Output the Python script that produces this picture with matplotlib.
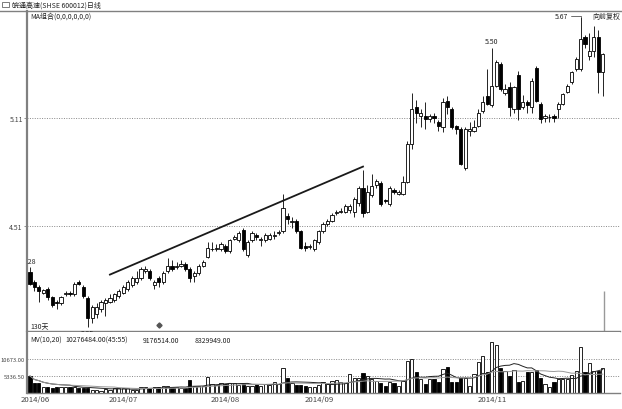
import matplotlib
matplotlib.use('Agg')
import matplotlib.pyplot as plt
import numpy as np
import pandas as pd
from matplotlib.lines import Line2D
from matplotlib.patches import Rectangle
import matplotlib.transforms as mtrans

plt.rcParams['font.family'] = ['Noto Sans CJK SC', 'DejaVu Sans']

# ---------------- data ----------------
opens = [4.255, 4.20, 4.17, 4.14, 4.16, 4.115, 4.09, 4.08, 4.13, 4.14,
         4.13, 4.20, 4.17, 4.11, 4.00, 4.02, 4.05, 4.08, 4.09, 4.10,
         4.12, 4.14, 4.16, 4.18, 4.20, 4.22, 4.26, 4.26, 4.18, 4.22,
         4.20, 4.26, 4.29, 4.28, 4.29, 4.30, 4.27, 4.23, 4.25, 4.29,
         4.34, 4.38, 4.38, 4.38, 4.40, 4.37, 4.44, 4.43, 4.49, 4.35,
         4.43, 4.46, 4.43, 4.43, 4.44, 4.455, 4.47, 4.48, 4.565, 4.53,
         4.54, 4.48, 4.40, 4.395, 4.38, 4.42, 4.48, 4.52, 4.54, 4.58,
         4.59, 4.59, 4.60, 4.59, 4.64, 4.72, 4.59, 4.68, 4.74, 4.75,
         4.655, 4.63, 4.71, 4.69, 4.69, 4.755, 4.965, 5.17, 5.12, 5.12,
         5.105, 5.12, 5.09, 5.06, 5.205, 5.16, 5.065, 5.05, 4.83, 5.04,
         5.04, 5.065, 5.15, 5.23, 5.18, 5.29, 5.41, 5.25, 5.28, 5.16,
         5.35, 5.17, 5.20, 5.17, 5.39, 5.19, 5.11, 5.115, 5.12, 5.16,
         5.19, 5.255, 5.31, 5.38, 5.38, 5.56, 5.455, 5.48, 5.56, 5.365]
closes = [4.19, 4.17, 4.15, 4.155, 4.115, 4.07, 4.08, 4.115, 4.14, 4.135,
          4.19, 4.19, 4.12, 4.00, 4.06, 4.06, 4.09, 4.10, 4.11, 4.13,
          4.15, 4.17, 4.20, 4.22, 4.22, 4.27, 4.27, 4.22, 4.20, 4.20,
          4.25, 4.29, 4.27, 4.29, 4.30, 4.27, 4.22, 4.25, 4.29, 4.31,
          4.39, 4.385, 4.39, 4.41, 4.37, 4.43, 4.45, 4.47, 4.38, 4.42,
          4.47, 4.45, 4.44, 4.46, 4.46, 4.46, 4.475, 4.61, 4.55, 4.54,
          4.48, 4.39, 4.39, 4.40, 4.43, 4.48, 4.52, 4.54, 4.57, 4.59,
          4.595, 4.62, 4.62, 4.66, 4.72, 4.58, 4.70, 4.73, 4.76, 4.63,
          4.65, 4.72, 4.70, 4.70, 4.755, 4.965, 5.16, 5.14, 5.14, 5.105,
          5.12, 5.11, 5.065, 5.20, 5.17, 5.06, 5.05, 4.855, 5.05, 5.05,
          5.06, 5.14, 5.20, 5.19, 5.29, 5.42, 5.27, 5.27, 5.17, 5.28,
          5.16, 5.20, 5.18, 5.315, 5.205, 5.105, 5.12, 5.115, 5.11, 5.19,
          5.245, 5.29, 5.365, 5.44, 5.55, 5.52, 5.48, 5.56, 5.365, 5.465]
highs = [4.28, 4.21, 4.18, 4.16, 4.17, 4.12, 4.10, 4.12, 4.15, 4.15,
         4.20, 4.21, 4.18, 4.12, 4.07, 4.08, 4.10, 4.11, 4.13, 4.14,
         4.16, 4.18, 4.21, 4.23, 4.26, 4.28, 4.29, 4.27, 4.21, 4.23,
         4.26, 4.33, 4.32, 4.31, 4.32, 4.31, 4.28, 4.26, 4.30, 4.32,
         4.42, 4.42, 4.41, 4.42, 4.41, 4.44, 4.46, 4.48, 4.50, 4.43,
         4.48, 4.47, 4.45, 4.47, 4.47, 4.48, 4.49, 4.69, 4.58, 4.56,
         4.55, 4.49, 4.42, 4.41, 4.44, 4.49, 4.53, 4.55, 4.58, 4.60,
         4.61, 4.63, 4.63, 4.67, 4.73, 4.82, 4.74, 4.80, 4.77, 4.76,
         4.66, 4.73, 4.72, 4.71, 4.79, 4.98, 5.25, 5.21, 5.16, 5.20,
         5.13, 5.14, 5.10, 5.22, 5.23, 5.17, 5.07, 5.06, 5.06, 5.09,
         5.10, 5.16, 5.23, 5.38, 5.50, 5.43, 5.42, 5.30, 5.31, 5.29,
         5.37, 5.24, 5.21, 5.33, 5.40, 5.20, 5.13, 5.13, 5.13, 5.20,
         5.25, 5.30, 5.37, 5.45, 5.67, 5.57, 5.58, 5.62, 5.60, 5.47]
lows = [4.18, 4.15, 4.09, 4.13, 4.10, 4.06, 4.05, 4.07, 4.12, 4.12,
        4.12, 4.18, 4.11, 3.95, 3.97, 4.00, 4.03, 4.01, 4.08, 4.09,
        4.11, 4.13, 4.15, 4.17, 4.19, 4.21, 4.25, 4.21, 4.16, 4.17,
        4.19, 4.25, 4.26, 4.27, 4.28, 4.26, 4.20, 4.20, 4.24, 4.28,
        4.33, 4.37, 4.37, 4.37, 4.36, 4.36, 4.43, 4.42, 4.37, 4.34,
        4.42, 4.43, 4.40, 4.42, 4.43, 4.44, 4.46, 4.47, 4.52, 4.50,
        4.47, 4.38, 4.37, 4.38, 4.37, 4.41, 4.47, 4.51, 4.53, 4.57,
        4.58, 4.58, 4.58, 4.56, 4.62, 4.56, 4.58, 4.67, 4.72, 4.62,
        4.64, 4.62, 4.69, 4.68, 4.68, 4.75, 4.94, 5.08, 5.06, 5.05,
        5.09, 5.08, 5.04, 5.03, 5.13, 5.05, 5.02, 4.85, 4.82, 5.01,
        5.03, 5.06, 5.14, 5.18, 5.17, 5.28, 5.26, 5.24, 5.12, 5.14,
        5.10, 5.16, 5.14, 5.14, 5.20, 5.08, 5.09, 5.09, 5.09, 5.11,
        5.18, 5.25, 5.30, 5.37, 5.37, 5.50, 5.43, 5.45, 5.25, 5.23]
volumes = [5340, 3140, 3140, 1880, 1880, 1570, 1880, 1880, 1880, 1880,
           1880, 1570, 1570, 1570, 940, 940, 630, 1260, 940, 1570,
           1570, 1570, 1570, 940, 940, 1880, 1880, 1570, 1880, 1880,
           2200, 2200, 1880, 1880, 1570, 1570, 4080, 2200, 2200, 2200,
           5020, 2830, 2510, 3140, 2830, 3140, 3140, 2510, 2830, 2200,
           2200, 2830, 2200, 2830, 2510, 3450, 2830, 7850, 4710, 3140,
           2510, 2510, 2200, 1880, 1880, 2510, 3450, 2830, 3770, 4080,
           3450, 3140, 5970, 4710, 4710, 6280, 5340, 4400, 3770, 3140,
           2200, 3450, 3140, 2200, 3770, 10050, 10680, 6590, 4400, 2830,
           4400, 4400, 3450, 7540, 8160, 3450, 3450, 4710, 4710, 2200,
           5970, 9730, 11620, 6590, 16010, 15070, 7850, 6910, 5340, 7220,
           3450, 3770, 6590, 6590, 7220, 4710, 2830, 1880, 3450, 4400,
           4400, 4400, 5650, 6910, 14440, 6590, 9420, 6910, 6910, 7850]
month_labels = ['2014/06', '2014/07', '2014/08', '2014/09', '2014/11']
month_start_idx = [0, 20, 43, 64, 103]
price_ticks = [4.51, 5.11]
price_tick_labels = ['4.51', '5.11']
vol_ticks = [5336.50, 10673.00]
vol_tick_labels = ['5336.50', '10673.00']
trend_x = [18, 75]
trend_y = [4.24, 4.84]
mv_texts = ['MV(10,20)', '10276484.00(45:55)', '9176514.00', '8329949.00']

# ---------------- layout ----------------
W, H = 622, 410
fig = plt.figure(figsize=(W / 100, H / 100), dpi=100)
fig.patch.set_facecolor('white')

def fx(px):
    return px / W

def fy(py):
    return 1 - py / H

L, R = 27, 620
ax = fig.add_axes([fx(L), fy(332), fx(R - L), (332 - 12) / H])
axv = fig.add_axes([fx(L), fy(394), fx(R - L), (394 - 333) / H])

step = 4.44
x0 = 30
xlim = ((L - x0) / step, (R - x0) / step)
ax.set_xlim(*xlim)
axv.set_xlim(*xlim)
ax.set_ylim(5.11 - 213 / 180, 5.11 + 107 / 180)
axv.set_ylim(0, 61 * 314)

n = len(opens)
idx = np.arange(n)
o = np.array(opens); c = np.array(closes)
hi = np.array(highs); lo = np.array(lows)
up = c >= o
face = ['white' if u else 'black' for u in up]

grey = '#808080'
txtc = '#222222'

# grid lines
for t in price_ticks:
    ax.axhline(t, color='#888888', lw=0.7, ls=(0, (1, 1.5)), zorder=0)
for t in vol_ticks:
    axv.axhline(t, color='#888888', lw=0.7, ls=(0, (1, 1.5)), zorder=0)

# candles
ax.vlines(idx, lo, hi, color='black', lw=0.6, zorder=2)
body_bottom = np.minimum(o, c)
body_h = np.maximum(np.abs(c - o), 0.003)
ax.bar(idx, body_h, bottom=body_bottom, width=0.72, color=face,
       edgecolor='black', linewidth=0.6, zorder=3)

# trend line
ax.plot(trend_x, trend_y, color='#1a1a1a', lw=1.3, zorder=4)

# cursor line and marker
ax.vlines(n - 1 + 0.3, ax.get_ylim()[0], 4.15, color='#999999', lw=1.0, zorder=1)
ax.plot([29], [3.96], marker='D', ms=2.6, color='#555555', zorder=5)

# price labels
fs = 5
ax.annotate('4.28', xy=(0, highs[0]), xytext=(0, 1.5), textcoords='offset points',
            ha='center', va='bottom', fontsize=fs, color=txtc, clip_on=True)
ax.annotate('3.95', xy=(13, lows[13]), xytext=(0, -1.5), textcoords='offset points',
            ha='center', va='top', fontsize=fs, color=txtc)
ax.annotate('5.50', xy=(104, highs[104]), xytext=(0, 2), textcoords='offset points',
            ha='center', va='bottom', fontsize=fs, color=txtc)
ax.annotate('5.67', xy=(124, highs[124]), xytext=(-9, 1.2), textcoords='offset points',
            ha='right', va='center', fontsize=fs, color=txtc,
            arrowprops=dict(arrowstyle='-', color='#555555', lw=0.6,
                            connectionstyle='angle,angleA=0,angleB=90,rad=0',
                            shrinkA=0, shrinkB=0))

# volume bars
axv.bar(idx, volumes, width=0.72, color=face, edgecolor='black', linewidth=0.6, zorder=2)
vs = pd.Series(volumes, dtype=float)
axv.plot(idx, vs.rolling(10, min_periods=1).mean(), color='#222222', lw=0.7, zorder=3)
axv.plot(idx, vs.rolling(20, min_periods=1).mean(), color='#999999', lw=0.7, zorder=3)

# spines / ticks
for a in (ax, axv):
    a.set_facecolor('white')
    a.spines['right'].set_visible(False)
    a.spines['left'].set_color(grey)
    a.spines['left'].set_linewidth(1.6)
    a.spines['bottom'].set_color(grey)
    a.spines['bottom'].set_linewidth(1.0)
    a.set_xticks([])
ax.tick_params(axis='y', length=2, width=0.6, color=grey, labelsize=5,
               labelcolor='#444444', pad=1)
axv.tick_params(axis='y', length=1, width=0.6, color=grey, labelsize=4.2,
                labelcolor='#444444', pad=0.5)
ax.spines['top'].set_visible(False)
axv.spines['top'].set_visible(False)
ax.set_yticks(price_ticks, price_tick_labels)
axv.set_yticks(vol_ticks, vol_tick_labels)

# top line and title
fig.add_artist(Line2D([0, 1], [fy(11.5), fy(11.5)], color=grey, lw=1.0))
fig.add_artist(Rectangle((fx(2), fy(8)), fx(7), 5 / H, facecolor='none',
                         edgecolor='#666666', lw=0.6))
fig.text(fx(12), fy(5.5), '皖通高速(SHSE 600012)日线', fontsize=5, color=txtc,
         va='center', ha='left')

# texts inside main panel
ax.text((30 - L) / (R - L), (332 - 17) / 320, 'MA组合(0,0,0,0,0,0)', transform=ax.transAxes,
        fontsize=fs, color=txtc, va='center', ha='left')
ax.text(1.0, (332 - 17) / 320, '向前复权', transform=ax.transAxes,
        fontsize=fs, color=txtc, va='center', ha='right')
ax.text((30 - L) / (R - L), (332 - 327) / 320, '130天', transform=ax.transAxes,
        fontsize=fs, color=txtc, va='center', ha='left')

# MV texts
mv_px = [30, 65, 143, 195]
for s, px in zip(mv_texts, mv_px):
    axv.text((px - L) / (R - L), (394 - 341) / 61, s, transform=axv.transAxes,
             fontsize=fs, color=txtc, va='center', ha='left')

# date labels
btr = mtrans.blended_transform_factory(axv.transData, axv.transAxes)
for lab, mi in zip(month_labels, month_start_idx):
    axv.text(mi - 2.2, (394 - 400.5) / 61, lab, transform=btr, fontsize=5.6,
             color='#444444', va='center', ha='left')

fig.savefig('out.png', dpi=100, facecolor='white')
